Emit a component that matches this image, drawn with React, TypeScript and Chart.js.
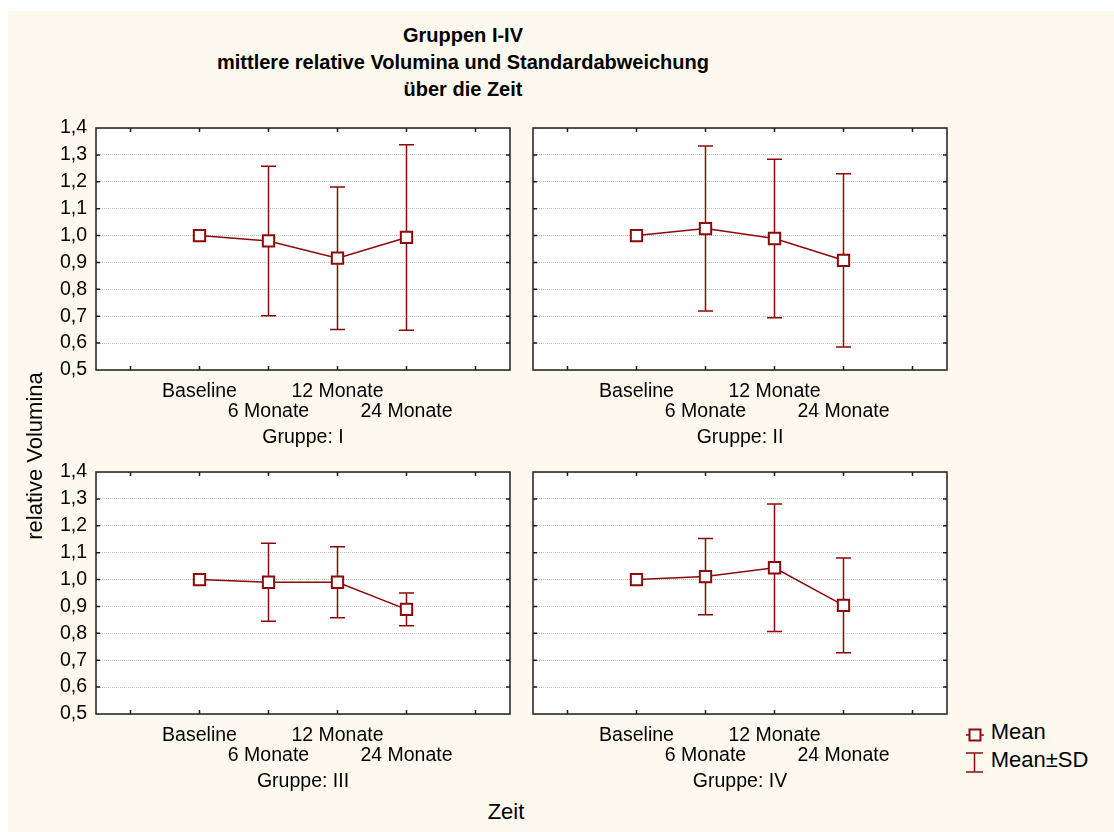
import React, { useEffect, useRef } from 'react';
import { Chart, registerables } from 'chart.js';

Chart.register(...registerables);

const FONT = "'Liberation Sans', Arial, Helvetica, sans-serif";
const RED = '#8c0a0a';
const FRAME = '#1e1e1e';
const GRID = '#c4c4c4';
const CREAM = '#fef9ee';

// ---- data ----
const categories = ['', 'Baseline', '6 Monate', '12 Monate', '24 Monate', ''];
const labelRow = [0, 0, 1, 0, 1, 0];

const yMin = 0.5;
const yMax = 1.4;
const yStep = 0.1;

const groupTitles = ['Gruppe: I', 'Gruppe: II', 'Gruppe: III', 'Gruppe: IV'];

const meanI = [null, 1.0, 0.98, 0.916, 0.993, null];
const sdI = [null, 0, 0.278, 0.265, 0.345, null];
const meanII = [null, 1.0, 1.026, 0.989, 0.908, null];
const sdII = [null, 0, 0.307, 0.295, 0.322, null];
const meanIII = [null, 1.0, 0.99, 0.99, 0.889, null];
const sdIII = [null, 0, 0.145, 0.132, 0.061, null];
const meanIV = [null, 1.0, 1.011, 1.044, 0.904, null];
const sdIV = [null, 0, 0.142, 0.237, 0.176, null];

const chartTitle = ['Gruppen I-IV', 'mittlere relative Volumina und Standardabweichung', 'über die Zeit'];
const yAxisTitle = 'relative Volumina';
const xAxisTitle = 'Zeit';
const legendLabels = ['Mean', 'Mean±SD'];

// ---- plugin: white plot area, error bars, frame, inner ticks ----
const panelPlugin = {
  id: 'panelDecor',
  beforeDraw(chart: any) {
    const { ctx, chartArea: a } = chart;
    ctx.save();
    ctx.fillStyle = '#ffffff';
    ctx.fillRect(a.left, a.top, a.right - a.left, a.bottom - a.top);
    ctx.restore();
  },
  beforeDatasetsDraw(chart: any, _args: any, opts: any) {
    const { ctx } = chart;
    const sds: (number | null)[] = opts.sds || [];
    const means = chart.data.datasets[0].data;
    const xs = chart.scales.x;
    const ys = chart.scales.y;
    ctx.save();
    ctx.strokeStyle = RED;
    ctx.lineWidth = 1.5;
    means.forEach((m: number | null, i: number) => {
      const sd = sds[i];
      if (m == null || !sd) return;
      const px = xs.getPixelForValue(i);
      const pTop = ys.getPixelForValue(m + sd);
      const pBot = ys.getPixelForValue(m - sd);
      ctx.beginPath();
      ctx.moveTo(px, pTop);
      ctx.lineTo(px, pBot);
      ctx.moveTo(px - 7.5, pTop);
      ctx.lineTo(px + 7.5, pTop);
      ctx.moveTo(px - 7.5, pBot);
      ctx.lineTo(px + 7.5, pBot);
      ctx.stroke();
    });
    ctx.restore();
  },
  afterDraw(chart: any) {
    const { ctx, chartArea: a } = chart;
    const xs = chart.scales.x;
    const ys = chart.scales.y;
    ctx.save();
    ctx.strokeStyle = FRAME;
    ctx.lineWidth = 1.5;
    ctx.strokeRect(a.left, a.top, a.right - a.left, a.bottom - a.top);
    ctx.beginPath();
    xs.ticks.forEach((_t: any, i: number) => {
      const px = xs.getPixelForTick(i);
      ctx.moveTo(px, a.top);
      ctx.lineTo(px, a.top + 4);
      ctx.moveTo(px, a.bottom);
      ctx.lineTo(px, a.bottom - 4);
    });
    ys.ticks.forEach((_t: any, i: number) => {
      const py = ys.getPixelForTick(i);
      if (Math.abs(py - a.top) < 1 || Math.abs(py - a.bottom) < 1) return;
      ctx.moveTo(a.left, py);
      ctx.lineTo(a.left + 4, py);
      ctx.moveTo(a.right, py);
      ctx.lineTo(a.right - 4, py);
    });
    ctx.stroke();
    ctx.restore();
  },
};

type PanelProps = {
  means: (number | null)[];
  sds: (number | null)[];
  title: string;
  showY: boolean;
  left: number;
  top: number;
};

const PLOT_W = 420;
const PLOT_H = 242;
const PAD_TOP = 12;
const PAD_RIGHT = 4;
const X_AXIS_H = 79;

function Panel({ means, sds, title, showY, left, top }: PanelProps) {
  const ref = useRef<HTMLCanvasElement | null>(null);
  const yWidth = showY ? 88 : 13;
  const w = yWidth + PLOT_W + PAD_RIGHT;
  const h = PAD_TOP + PLOT_H + X_AXIS_H;

  useEffect(() => {
    if (!ref.current) return;
    const labels = categories.map((c, i) => (labelRow[i] === 0 ? [c, ''] : ['', c]));
    const chart = new Chart(ref.current, {
      type: 'line',
      data: {
        labels,
        datasets: [
          {
            data: means,
            borderColor: RED,
            borderWidth: 1.5,
            pointStyle: 'rect',
            pointRadius: 8,
            pointHoverRadius: 8,
            pointBackgroundColor: '#ffffff',
            pointBorderColor: RED,
            pointBorderWidth: 2,
            fill: false,
            tension: 0,
          },
        ],
      },
      options: {
        responsive: false,
        animation: false,
        events: [],
        devicePixelRatio: 1,
        layout: { padding: { top: PAD_TOP, right: PAD_RIGHT, left: 0, bottom: 0 } },
        plugins: {
          legend: { display: false },
          tooltip: { enabled: false },
          title: { display: false },
          panelDecor: { sds },
        } as any,
        scales: {
          x: {
            type: 'category',
            offset: true,
            grid: { display: false, offset: false, drawTicks: false },
            border: { display: false },
            ticks: {
              autoSkip: false,
              maxRotation: 0,
              minRotation: 0,
              padding: 11.5,
              color: '#000000',
              font: { family: FONT, size: 19.5, lineHeight: 20 / 19.5 },
            },
            title: {
              display: true,
              text: title,
              color: '#000000',
              padding: 0,
              font: { family: FONT, size: 19.5 },
            },
            afterFit: (s: any) => {
              s.height = X_AXIS_H;
              s.paddingLeft = 0;
              s.paddingRight = 0;
            },
          },
          y: {
            min: yMin,
            max: yMax,
            grid: { color: GRID, lineWidth: 1, drawTicks: false },
            border: { display: false, dash: [1, 1] },
            ticks: {
              stepSize: yStep,
              autoSkip: false,
              display: showY,
              padding: 9,
              color: '#000000',
              font: { family: FONT, size: 19.5 },
              callback: (v: any) => Number(v).toFixed(1).replace('.', ','),
            },
            afterFit: (s: any) => {
              s.width = yWidth;
              s.paddingTop = 0;
              s.paddingBottom = 0;
            },
          },
        },
      } as any,
      plugins: [panelPlugin],
    });
    return () => chart.destroy();
  }, []);

  return (
    <canvas
      ref={ref}
      width={w}
      height={h}
      style={{ position: 'absolute', left, top, width: w, height: h }}
    />
  );
}

export default function App() {
  const panelTop1 = 105;
  const panelTop2 = 449;
  const txt = { position: 'absolute' as const, fontFamily: FONT, color: '#000', whiteSpace: 'nowrap' as const };
  return (
    <div
      style={{
        position: 'fixed',
        left: 8,
        top: 11,
        width: 1106,
        height: 821,
        background: CREAM,
        overflow: 'hidden',
      }}
    >
      <div
        style={{
          ...txt,
          left: 155,
          top: 11,
          width: 600,
          textAlign: 'center',
          fontWeight: 'bold',
          fontSize: 20,
          lineHeight: '27px',
        }}
      >
        {chartTitle.map((t, i) => (
          <div key={i}>{t}</div>
        ))}
      </div>

      <Panel means={meanI} sds={sdI} title={groupTitles[0]} showY={true} left={0} top={panelTop1} />
      <Panel means={meanII} sds={sdII} title={groupTitles[1]} showY={false} left={512} top={panelTop1} />
      <Panel means={meanIII} sds={sdIII} title={groupTitles[2]} showY={true} left={0} top={panelTop2} />
      <Panel means={meanIV} sds={sdIV} title={groupTitles[3]} showY={false} left={512} top={panelTop2} />

      <div
        style={{
          ...txt,
          left: 27 - 150,
          top: 445 - 11,
          width: 300,
          textAlign: 'center',
          fontSize: 22,
          lineHeight: '22px',
          transform: 'rotate(-90deg)',
        }}
      >
        {yAxisTitle}
      </div>

      <div
        style={{
          ...txt,
          left: 398,
          top: 790.4,
          width: 200,
          textAlign: 'center',
          fontSize: 22,
          lineHeight: '22px',
        }}
      >
        {xAxisTitle}
      </div>

      <svg
        width={35}
        height={65}
        style={{ position: 'absolute', left: 955, top: 715 }}
      >
        <line x1={3} y1={9} x2={21} y2={9} stroke={RED} strokeWidth={1.5} />
        <rect x={6.5} y={3.5} width={11} height={11} fill="#ffffff" stroke={RED} strokeWidth={2} />
        <line x1={11.5} y1={27} x2={11.5} y2={46} stroke={RED} strokeWidth={1.5} />
        <line x1={3} y1={27} x2={20} y2={27} stroke={RED} strokeWidth={1.5} />
        <line x1={3} y1={46} x2={20} y2={46} stroke={RED} strokeWidth={1.5} />
      </svg>
      <div style={{ ...txt, left: 982.7, top: 710.4, fontSize: 22, lineHeight: '22px' }}>{legendLabels[0]}</div>
      <div style={{ ...txt, left: 982.7, top: 738.4, fontSize: 22, lineHeight: '22px' }}>{legendLabels[1]}</div>
    </div>
  );
}
